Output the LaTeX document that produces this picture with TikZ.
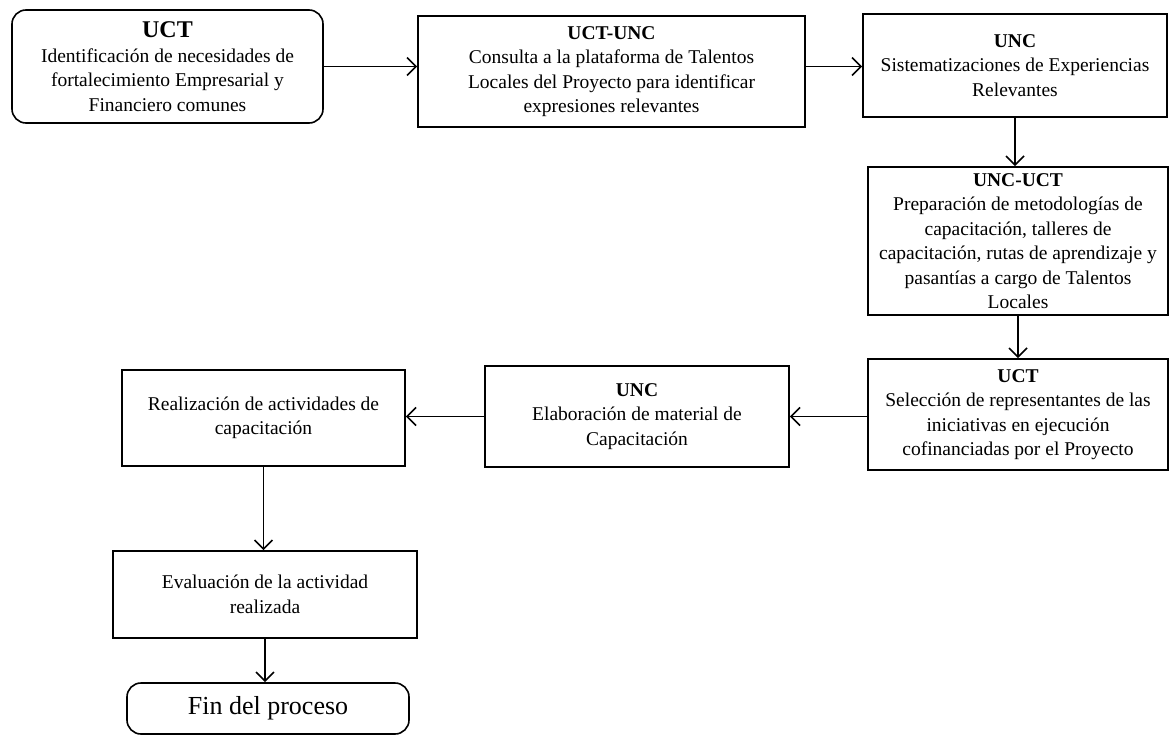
\documentclass[tikz,border=0pt]{standalone}
\usepackage{fontspec}
\setmainfont{Liberation Serif}
\usetikzlibrary{arrows.meta}
\begin{document}
\begin{tikzpicture}[x=1pt,y=-1pt,
  box/.style={draw, line width=1.6pt, align=center, inner sep=0pt,
    font=\fontsize{19.5}{24.5}\selectfont},
  rbox/.style={box, rounded corners=14pt},
  arr/.style={line width=1.7pt, -{Straight Barb[length=9pt,width=18pt,line width=1.7pt]}}]
\useasboundingbox (0,0) rectangle (1170,736);
\node[rbox, minimum width=311, minimum height=113] (b1) at (167.5,66.5)
  {{\fontsize{24}{26}\selectfont\bfseries UCT}\\Identificación de necesidades de\\fortalecimiento Empresarial y\\Financiero comunes};
\node[box, minimum width=387, minimum height=111] (b2) at (611.5,71.5)
  {\textbf{UCT-UNC}\\Consulta a la plataforma de Talentos\\Locales del Proyecto para identificar\\expresiones relevantes};
\node[box, minimum width=304, minimum height=103] (b3) at (1015,65.5)
  {\textbf{UNC}\\Sistematizaciones de Experiencias\\Relevantes};
\node[box, minimum width=300, minimum height=148] (b4) at (1018,241)
  {\textbf{UNC-UCT}\\Preparación de metodologías de\\capacitación, talleres de\\capacitación, rutas de aprendizaje y\\pasantías a cargo de Talentos\\Locales};
\node[box, minimum width=300, minimum height=111] (b5) at (1018,414.5)
  {\textbf{UCT}\\Selección de representantes de las\\iniciativas en ejecución\\cofinanciadas por el Proyecto};
\node[box, minimum width=304, minimum height=101] (b6) at (637,416.5)
  {\textbf{UNC}\\Elaboración de material de\\Capacitación};
\node[box, minimum width=283, minimum height=96] (b7) at (263.5,418)
  {Realización de actividades de\\capacitación};
\node[box, minimum width=304, minimum height=87] (b8) at (265,594.5)
  {Evaluación de la actividad\\realizada};
\node[rbox, minimum width=282, minimum height=51, font=\fontsize{26}{30}\selectfont] (b9) at (268,708.5)
  {Fin del proceso};
\draw[arr] (b1.east) -- (b1.east -| b2.west);
\draw[arr] (b1.east -| b2.east) -- (b1.east -| b3.west);
\draw[arr] (b3.south) -- (b3.south |- b4.north);
\draw[arr] (b4.south) -- (b4.south |- b5.north);
\draw[arr] (b5.west |- b6.east) -- (b6.east);
\draw[arr] (b6.west) -- (b6.west -| b7.east);
\draw[arr] (b7.south) -- (b7.south |- b8.north);
\draw[arr] (b8.south) -- (b8.south |- b9.north);
\end{tikzpicture}
\end{document}
